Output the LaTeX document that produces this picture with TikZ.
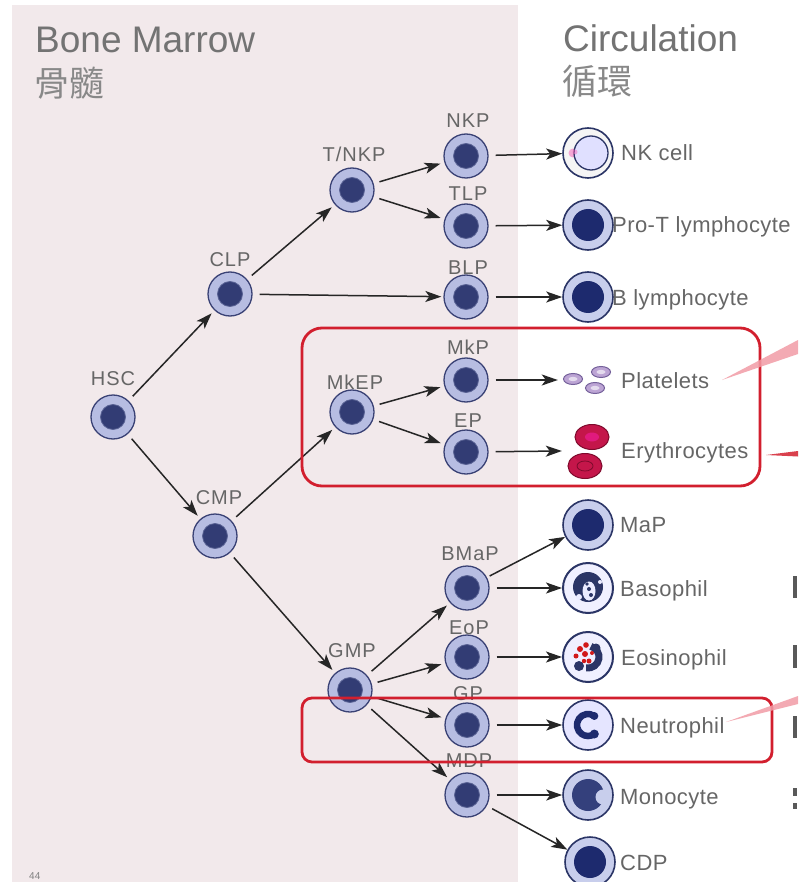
\documentclass[tikz,border=0pt]{standalone}
\usepackage{fontspec}
\setmainfont{Liberation Sans}
\newfontfamily\cjkfont{Noto Sans CJK TC}
\newfontfamily\lblfont[LetterSpace=5]{Liberation Sans}
\newfontfamily\celfont[LetterSpace=2]{Liberation Sans}
\usetikzlibrary{arrows.meta}

\definecolor{bgpink}{HTML}{F2E9EB}
\definecolor{ringc}{HTML}{B7BDE2}
\definecolor{nucc}{HTML}{323C74}
\definecolor{cellline}{HTML}{3A4275}
\definecolor{mring}{HTML}{C8CEEC}
\definecolor{mnuc}{HTML}{1D2A6E}
\definecolor{mline}{HTML}{2B3566}
\definecolor{monoc}{HTML}{34407C}
\definecolor{boxred}{HTML}{D21F2E}
\definecolor{eryc}{HTML}{C4164A}
\definecolor{eryline}{HTML}{7E0A2C}
\definecolor{arrowc}{HTML}{262626}
\definecolor{txtc}{HTML}{666666}
\definecolor{hdrc}{HTML}{737373}
\definecolor{pointer}{HTML}{F29CA6}
\definecolor{platc}{HTML}{BCA4D4}
\definecolor{platline}{HTML}{74609A}

\tikzset{
  prog/.style={circle, draw=cellline, line width=1.3pt, fill=ringc,
    minimum size=44pt, inner sep=0pt,
    path picture={\fill[nucc, draw=nucc!70!ringc, line width=0.8pt]
      (path picture bounding box.center) circle (12.5pt);}},
  mcell/.style={circle, draw=mline, line width=1.6pt, fill=mring,
    minimum size=50pt, inner sep=0pt},
  mcellnuc/.style={mcell,
    path picture={\fill[mnuc] (path picture bounding box.center) circle (16pt);}},
  plbl/.style={inner sep=0pt, text=txtc, text height=14pt, text depth=0pt,
    font=\lblfont\fontsize{20pt}{20pt}\selectfont},
  mlbl/.style={inner sep=0pt, anchor=west, text=txtc, text height=16pt,
    text depth=0pt, font=\celfont\fontsize{22pt}{22pt}\selectfont},
  hdr/.style={inner sep=0pt, anchor=base west, text=hdrc,
    font=\fontsize{37pt}{37pt}\selectfont},
  cjkhdr/.style={inner sep=0pt, anchor=base west, text=hdrc!85,
    font=\cjkfont\fontsize{35pt}{35pt}\selectfont},
  arr/.style={draw=arrowc, line width=1.5pt,
    -{Stealth[length=16pt,width=11pt,inset=4pt]}},
  diag/.style={arr, shorten <=6pt, shorten >=4pt},
  horiz/.style={arr, shorten <=7pt},
  redbox/.style={draw=boxred, line width=2.8pt},
  fragment/.style={fill=black!65},
  platelet/.style={fill=platc, draw=platline, line width=1pt},
  erythro/.style={fill=eryc, draw=eryline, line width=1pt},
}

\begin{document}
\begin{tikzpicture}[x=1pt, y=-1pt]
\useasboundingbox (0,0) rectangle (798,882);
\fill[white] (0,0) rectangle (798,882);
% bone marrow panel
\fill[bgpink] (12,5) rectangle (518,882);

% headings
\node[hdr] (bm) at (35,53) {Bone Marrow};
\node[cjkhdr] (bmzh) at (34,97) {骨髓};
\node[hdr] (circ) at (563,52) {Circulation};
\node[cjkhdr] (circzh) at (562,95) {循環};

% progenitor cells
\node[prog] (hsc)  at (113,417) {};
\node[prog] (clp)  at (230,294) {};
\node[prog] (cmp)  at (215,536) {};
\node[prog] (tnkp) at (352,190) {};
\node[prog] (mkep) at (352,412) {};
\node[prog] (gmp)  at (350,690) {};
\node[prog] (nkp)  at (466,156) {};
\node[prog] (tlp)  at (466,226) {};
\node[prog] (blp)  at (466,297) {};
\node[prog] (mkp)  at (466,380) {};
\node[prog] (ep)   at (466,452) {};
\node[prog] (bmap) at (467,588) {};
\node[prog] (eop)  at (467,657) {};
\node[prog] (gp)   at (467,725) {};
\node[prog] (mdp)  at (467,795) {};

% progenitor labels
\node[plbl] (hsc-t)  at (113,378) {HSC};
\node[plbl] (clp-t)  at (230,259) {CLP};
\node[plbl] (cmp-t)  at (219,497) {CMP};
\node[plbl] (tnkp-t) at (354,155) {T/NKP};
\node[plbl] (mkep-t) at (355,382) {MkEP};
\node[plbl] (gmp-t)  at (352,650) {GMP};
\node[plbl] (nkp-t)  at (468,121) {NKP};
\node[plbl] (tlp-t)  at (468,194) {TLP};
\node[plbl] (blp-t)  at (468,268) {BLP};
\node[plbl] (mkp-t)  at (468,347) {MkP};
\node[plbl] (ep-t)   at (468,420) {EP};
\node[plbl] (bmap-t) at (470,553) {BMaP};
\node[plbl] (eop-t)  at (469,627) {EoP};
\node[plbl] (gp-t)   at (468,693) {GP};
\node[plbl] (mdp-t)  at (469,760) {MDP};

% mature cells
\node[mcell, fill=black!4!white] (nk) at (588,153) {};
\begin{scope}[shift={(nk.center)}]
  \fill[magenta!55, opacity=0.6] (-15pt,0pt) circle (4.5pt);
  \filldraw[fill=blue!12!white, draw=mline, line width=1.3pt] (3pt,0pt) circle (17pt);
  \fill[magenta!60, opacity=0.5] (-13pt,1pt) circle (2.5pt);
\end{scope}
\node[mcellnuc] (prot)  at (588,225) {};
\node[mcellnuc] (bcell) at (588,297) {};
\node[mcellnuc] (map)   at (588,525) {};
\node[mcellnuc] (cdp)   at (590,862) {};

% platelets
\node[inner sep=0pt, minimum width=56pt, minimum height=28pt] (plt) at (586,380) {};
\filldraw[platelet] (573,379) ellipse [x radius=9.5pt, y radius=5.5pt];
\filldraw[platelet] (601,372) ellipse [x radius=9.5pt, y radius=5.5pt];
\filldraw[platelet] (595,388) ellipse [x radius=9.5pt, y radius=5.5pt];
\fill[platc!40!white] (573,379) ellipse [x radius=4.5pt, y radius=2.2pt];
\fill[platc!40!white] (601,372) ellipse [x radius=4.5pt, y radius=2.2pt];
\fill[platc!40!white] (595,388) ellipse [x radius=4.5pt, y radius=2.2pt];

% erythrocytes
\node[inner sep=0pt, minimum width=52pt, minimum height=60pt] (ery) at (588,451) {};
\filldraw[erythro] (592,437) ellipse [x radius=17pt, y radius=12.5pt];
\fill[magenta!70!eryc] (592,437) ellipse [x radius=7pt, y radius=4.5pt];
\filldraw[erythro] (585,466) ellipse [x radius=17pt, y radius=12.5pt];
\draw[eryline, line width=0.8pt] (585,466) ellipse [x radius=8pt, y radius=5pt];

% basophil
\node[mcell, fill=blue!6!white, line width=2pt] (baso) at (588,588) {};
\begin{scope}[shift={(baso.center)}]
  \fill[mline] (0pt,1pt) circle (15pt);
  \fill[blue!8!white] (1pt,-3pt) ellipse [x radius=6.5pt, y radius=9.5pt];
  \fill[blue!8!white] (-9pt,-9pt) circle (3pt);
  \fill[mline] (1pt,-1pt) circle (2pt);
  \fill[mline] (3pt,-7pt) circle (2pt);
  \fill[mline] (-1pt,4pt) circle (1.8pt);
  \fill[blue!8!white] (12pt,6pt) circle (2pt);
\end{scope}

% eosinophil
\node[mcell, fill=blue!6!white, line width=2pt] (eos) at (588,657) {};
\begin{scope}[shift={(eos.center)}]
  \draw[mline, line width=7pt] (-100:11pt) arc[start angle=-100, end angle=75, radius=11pt];
  \fill[mline] (-9pt,-9pt) circle (5pt);
  \fill[mline] (8pt,9pt) circle (4.5pt);
  \fill[red!80!black!90] (-8pt,8pt) circle (3pt);
  \fill[red!80!black!90] (-2pt,12pt) circle (2.8pt);
  \fill[red!80!black!90] (-12pt,1pt) circle (2.5pt);
  \fill[red!80!black!90] (-3pt,3pt) circle (3pt);
  \fill[red!80!black!90] (1pt,-4pt) circle (2.5pt);
  \fill[red!80!black!90] (-4pt,-4pt) circle (2.2pt);
  \fill[red!80!black!90] (4pt,4pt) circle (2pt);
\end{scope}

% neutrophil
\node[mcell, fill=blue!10!white] (neut) at (588,725) {};
\begin{scope}[shift={(neut.center)}]
  \draw[mnuc, line width=6.5pt] (55:11pt) arc[start angle=55, end angle=305, radius=11pt];
  \fill[mnuc] (55:11pt) circle (4pt);
  \fill[mnuc] (-55:11pt) circle (4.5pt);
\end{scope}

% monocyte
\node[mcell, fill=mring] (mono) at (588,795) {};
\begin{scope}[shift={(mono.center)}]
  \fill[monoc] (0pt,0pt) circle (16pt);
  \fill[mring] (15pt,-2pt) circle (7.5pt);
\end{scope}

% mature cell labels
\node[mlbl] (nk-t)    at (621,153) {NK cell};
\node[mlbl] (prot-t)  at (612,225) {Pro-T lymphocyte};
\node[mlbl] (bcell-t) at (612,297) {B lymphocyte};
\node[mlbl] (plt-t)   at (621,380) {Platelets};
\node[mlbl] (ery-t)   at (621,450) {Erythrocytes};
\node[mlbl] (map-t)   at (620,524) {MaP};
\node[mlbl] (baso-t)  at (620,588) {Basophil};
\node[mlbl] (eos-t)   at (621,657) {Eosinophil};
\node[mlbl] (neut-t)  at (620,725) {Neutrophil};
\node[mlbl] (mono-t)  at (620,796) {Monocyte};
\node[mlbl] (cdp-t)   at (620,862) {CDP};

% lineage arrows
\draw[diag] (hsc) -- (clp);
\draw[diag] (hsc) -- (cmp);
\draw[diag] (clp) -- (tnkp);
\draw[horiz, shorten >=2pt] (clp) -- (blp);
\draw[diag] (tnkp) -- (nkp);
\draw[diag] (tnkp) -- (tlp);
\draw[diag] (cmp) -- (mkep);
\draw[diag] (cmp) -- (gmp);
\draw[diag] (mkep) -- (mkp);
\draw[diag] (mkep) -- (ep);
\draw[diag] (gmp) -- (bmap);
\draw[diag] (gmp) -- (eop);
\draw[diag] (gmp) -- (gp);
\draw[diag] (gmp) -- (mdp);

% into circulation
\draw[horiz] (nkp) -- (nk);
\draw[horiz] (tlp) -- (prot);
\draw[horiz] (blp) -- (bcell);
\draw[horiz] (mkp) -- (plt.west);
\draw[horiz] (ep) -- (ery.west);
\draw[horiz] (bmap) -- (baso);
\draw[horiz] (eop) -- (eos);
\draw[horiz] (gp) -- (neut);
\draw[horiz] (mdp) -- (mono);
\draw[arr, shorten <=3pt] (bmap.28) -- (map);
\draw[arr, shorten <=6pt] (mdp) -- (cdp);

% highlight frames
\draw[redbox, rounded corners=20pt] (302,328) rectangle (760,486);
\draw[redbox, rounded corners=10pt] (302,698) rectangle (772,762);

% call-out pointers leaving the right edge
\fill[pointer, opacity=0.85] (722,380) -- (798,340) -- (798,354) -- cycle;
\fill[boxred!85] (766,455) -- (798,451) -- (798,456.5) -- cycle;
\fill[pointer, opacity=0.85] (726,722) -- (798,696) -- (798,704) -- cycle;

% cut-off glyph edges at the right margin
\fill[fragment] (793,576) rectangle (797,598);
\fill[fragment] (793,645) rectangle (797,668);
\fill[fragment] (793,716) rectangle (797,738);
\fill[fragment] (793,788) rectangle (797,796);
\fill[fragment] (793,803) rectangle (797,809);

% page number
\node[inner sep=0pt, anchor=base west, text=black!50,
      font=\fontsize{10pt}{10pt}\selectfont] (pg) at (29,879) {44};
\end{tikzpicture}
\end{document}
